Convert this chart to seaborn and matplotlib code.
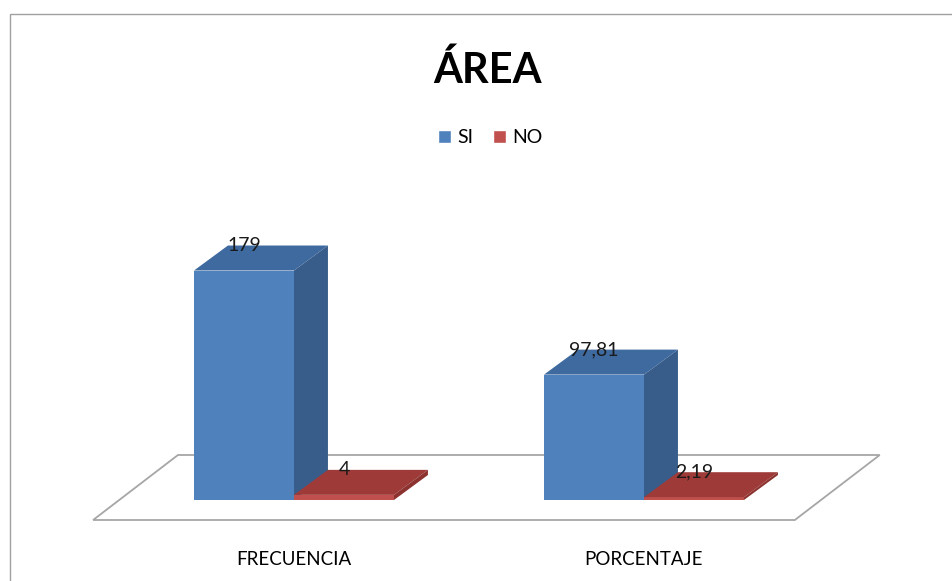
import pandas as pd
import matplotlib.pyplot as plt
import seaborn as sns
from matplotlib.patches import Polygon, Rectangle, Patch

# ===== Data =====
categorias = ["FRECUENCIA", "PORCENTAJE"]
series = ["SI", "NO"]
valores_si = [179, 97.81]
valores_no = [4, 2.19]

df = pd.DataFrame({
    "categoria": categorias * 2,
    "serie": ["SI"] * len(categorias) + ["NO"] * len(categorias),
    "valor": valores_si + valores_no,
})

# ===== Style =====
front = {"SI": "#4F81BD", "NO": "#C0504D"}
top = {"SI": "#3E6A9F", "NO": "#9E3B38"}
side = {"SI": "#385D8A", "NO": "#8C3330"}
depth_x, depth_y = 0.097, 19.5   # 3D offset in data units

sns.set_style("white")
plt.rcParams["font.family"] = ["Lato", "DejaVu Sans"]
plt.rcParams["text.color"] = "black"
plt.rcParams["xtick.color"] = "black"

fig = plt.figure(figsize=(9.52, 5.81), dpi=100)
ax = fig.add_axes([0, 81 / 581, 1, 320.5 / 581])

sns.barplot(data=df, x="categoria", y="valor", hue="serie", hue_order=series,
            palette=front, saturation=1, width=0.5714, legend=False, ax=ax,
            zorder=3, linewidth=0)

ax.set_xlim(-0.84, 1.88)
ax.set_ylim(0, 250)

# floor parallelogram
fl_left, fl_right, fl_front = -0.574, 1.431, -15.6
floor = Polygon([(fl_left, fl_front), (fl_right, fl_front),
                 (fl_right + 2.5 * depth_x, fl_front + 2.6 * depth_y),
                 (fl_left + 2.5 * depth_x, fl_front + 2.6 * depth_y)],
                closed=True, facecolor="white", edgecolor="#A6A6A6",
                linewidth=1.3, zorder=1, clip_on=False)
ax.add_patch(floor)

# 3D faces and value labels
for i, bar in enumerate(list(ax.patches)):
    if bar is floor:
        continue
    s = series[i // len(categorias)]
    x0, w, h = bar.get_x(), bar.get_width(), bar.get_height()
    z = 3 + i
    bar.set_zorder(z)
    ax.add_patch(Polygon([(x0, h), (x0 + w, h), (x0 + w + depth_x, h + depth_y),
                          (x0 + depth_x, h + depth_y)], closed=True,
                         facecolor=top[s], edgecolor="none", zorder=z, clip_on=False))
    ax.add_patch(Polygon([(x0 + w, 0), (x0 + w + depth_x, depth_y),
                          (x0 + w + depth_x, h + depth_y), (x0 + w, h)], closed=True,
                         facecolor=side[s], edgecolor="none", zorder=z, clip_on=False))
    txt = f"{h:g}".replace(".", ",")
    ax.text(x0 + w / 2, h + depth_y, txt, ha="center", va="center",
            fontsize=14, color="#1a1a1a", zorder=20)

ax.set_xlabel("")
ax.set_ylabel("")
ax.set_yticks([])
ax.tick_params(axis="x", length=0, pad=37, labelsize=13.5)
for sp in ax.spines.values():
    sp.set_visible(False)
ax.patch.set_alpha(0)

# title and legend
fig.text(487 / 952, 1 - 70 / 581, "ÁREA", ha="center", va="center",
         fontsize=30, fontweight="bold", color="black")
handles = [Patch(facecolor=front[s], label=s) for s in series]
fig.legend(handles=handles, loc="center", bbox_to_anchor=(490 / 952, 1 - 138 / 581),
           ncol=2, frameon=False, fontsize=14, handlelength=0.7, handleheight=0.7,
           handletextpad=0.3, columnspacing=1.0)

# chart border
fig.add_artist(Rectangle((10 / 952, -0.01), 950 / 952, 1.01 - 14 / 581,
                         transform=fig.transFigure, fill=False,
                         edgecolor="#A0A0A0", linewidth=1))

plt.savefig("out.png", dpi=100)
